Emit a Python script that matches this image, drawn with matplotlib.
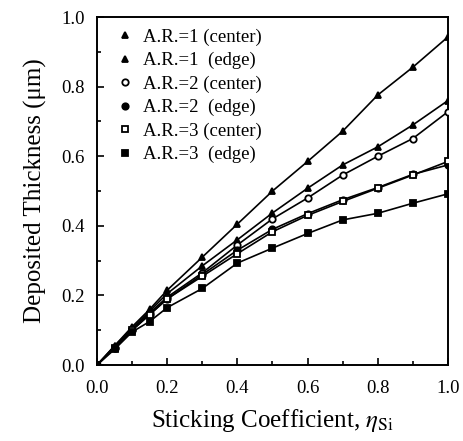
import matplotlib
matplotlib.use("Agg")
import matplotlib.pyplot as plt
from matplotlib.ticker import MultipleLocator

plt.rcParams["font.family"] = ["Liberation Serif", "DejaVu Serif"]
plt.rcParams["mathtext.fontset"] = "stix"

# sticking coefficient values
eta = [0, 0.05, 0.1, 0.15, 0.2, 0.3, 0.4, 0.5, 0.6, 0.7, 0.8, 0.9, 1.0]

ar1_center = [0, 0.055, 0.11, 0.16, 0.215, 0.31, 0.405, 0.50, 0.585, 0.672, 0.776, 0.856, 0.943]
ar1_edge = [0, 0.055, 0.105, 0.155, 0.205, 0.285, 0.36, 0.437, 0.508, 0.575, 0.627, 0.69, 0.76]
ar2_center = [0, 0.05, 0.10, 0.15, 0.195, 0.265, 0.345, 0.42, 0.48, 0.546, 0.60, 0.651, 0.728]
ar2_edge = [0, 0.05, 0.10, 0.145, 0.19, 0.26, 0.33, 0.39, 0.435, 0.475, 0.51, 0.548, 0.575]
ar3_center = [0, 0.05, 0.10, 0.145, 0.19, 0.255, 0.32, 0.383, 0.43, 0.47, 0.508, 0.546, 0.585]
ar3_edge = [0, 0.045, 0.095, 0.125, 0.165, 0.22, 0.293, 0.336, 0.378, 0.417, 0.436, 0.465, 0.492]

series = [
    ("A.R.=1 (center)", ar1_center, "^", "k"),
    ("A.R.=1  (edge)", ar1_edge, "^", "k"),
    ("A.R.=2 (center)", ar2_center, "o", "w"),
    ("A.R.=2  (edge)", ar2_edge, "o", "k"),
    ("A.R.=3 (center)", ar3_center, "s", "w"),
    ("A.R.=3  (edge)", ar3_edge, "s", "k"),
]

fig = plt.figure(figsize=(4.63, 4.41), dpi=100)
ax = fig.add_axes([0.2095, 0.1723, 0.758, 0.789])

for lab, ys, mk, fc in series:
    ax.plot(eta, ys, color="k", lw=1.2, zorder=2)
    ax.plot(eta, ys, ls="none", marker=mk, ms=4.6, mfc=fc, mec="k", mew=1.3,
            label=lab, zorder=3)

ax.set_xlim(0, 1.0)
ax.set_ylim(0, 1.0)
ax.xaxis.set_major_locator(MultipleLocator(0.2))
ax.xaxis.set_minor_locator(MultipleLocator(0.1))
ax.yaxis.set_major_locator(MultipleLocator(0.2))
ax.yaxis.set_minor_locator(MultipleLocator(0.1))
ax.tick_params(which="both", direction="in", labelsize=13.5, width=1.2)
ax.tick_params(which="major", length=5)
ax.tick_params(which="minor", length=3)
ax.tick_params(axis="x", pad=11)
ax.tick_params(axis="y", pad=9)
for s in ax.spines.values():
    s.set_linewidth(1.4)

ax.set_xlabel(r"Sticking Coefficient, $\eta_{\rm Si}$", fontsize=18, labelpad=7)
ax.set_ylabel("Deposited Thickness (μm)", fontsize=18, labelpad=10)

ax.legend(loc="upper left", frameon=False, fontsize=13.5, handletextpad=0.5,
          labelspacing=0.33, borderaxespad=0.2, handlelength=1.0,
          bbox_to_anchor=(0.02, 1.0))

fig.savefig("out.png", dpi=100)
